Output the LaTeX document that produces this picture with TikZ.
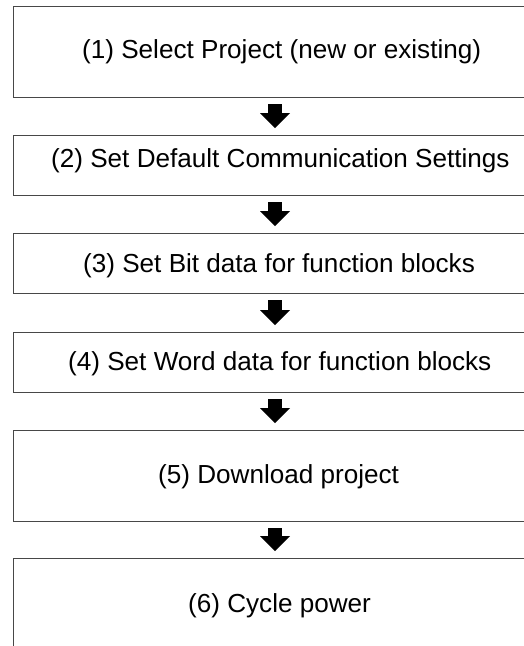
\documentclass[tikz,border=0pt]{standalone}
\usepackage{fontspec}
\setmainfont{Liberation Sans}
\usetikzlibrary{arrows.meta}
\begin{document}
\begin{tikzpicture}[x=1pt,y=-1pt,
  stepbox/.style={draw=black!72, line width=1pt, rectangle, inner sep=0pt, outer sep=0pt, anchor=north west, minimum width=524pt},
  steptext/.style={anchor=base west, inner sep=0pt, font=\fontsize{26.1}{30}\selectfont},
  flowarrow/.style={line width=14pt, -{Triangle[length=15pt,width=30pt,line width=0pt]}, shorten <=7pt, shorten >=7pt}]
\useasboundingbox (0,0) rectangle (523,646);
\node[stepbox, minimum height=91pt] (b1) at (13,6) {};
\node[stepbox, minimum height=60pt] (b2) at (13,135) {};
\node[stepbox, minimum height=60pt] (b3) at (13,233) {};
\node[stepbox, minimum height=60pt] (b4) at (13,332) {};
\node[stepbox, minimum height=91pt] (b5) at (13,430) {};
\node[stepbox, minimum height=122pt] (b6) at (13,558) {};
\node[steptext] (t1) at (82,58) {(1) Select Project (new or existing)};
\node[steptext] (t2) at (51,167) {(2) Set Default Communication Settings};
\node[steptext] (t3) at (83,272) {(3) Set Bit data for function blocks};
\node[steptext] (t4) at (68,370) {(4) Set Word data for function blocks};
\node[steptext] (t5) at (158,483) {(5) Download project};
\node[steptext] (t6) at (188,612) {(6) Cycle power};
\draw[flowarrow] (b1.south) -- (b2.north);
\draw[flowarrow] (b2.south) -- (b3.north);
\draw[flowarrow] (b3.south) -- (b4.north);
\draw[flowarrow] (b4.south) -- (b5.north);
\draw[flowarrow] (b5.south) -- (b6.north);
\end{tikzpicture}
\end{document}
